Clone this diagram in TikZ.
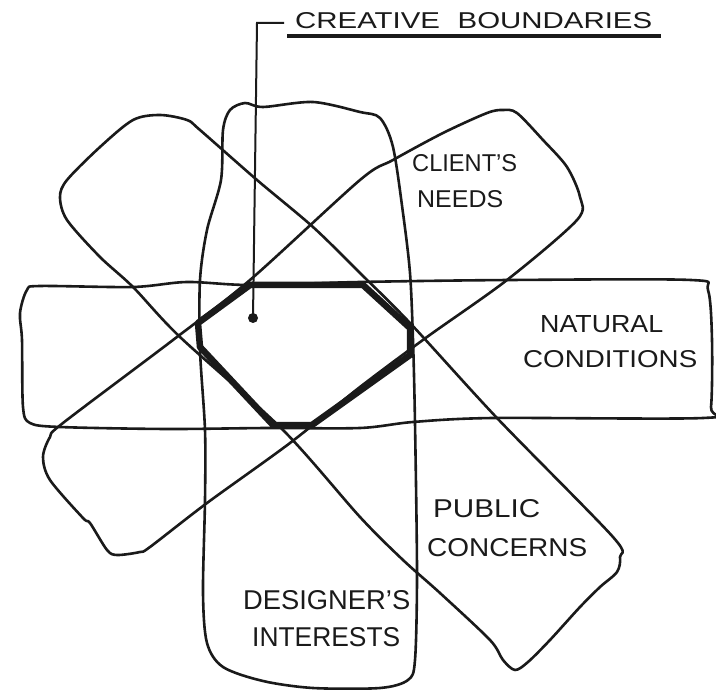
\documentclass[tikz,border=0pt]{standalone}
\usepackage{fontspec}
\setmainfont{Liberation Sans}
\usepackage{graphicx}
\newcommand{\hand}[3]{\resizebox{#1pt}{#2pt}{#3}}
\tikzset{
  band/.style={draw=ink, line width=2.6pt, line join=round},
  hexa/.style={draw=ink, line width=6.5pt, line join=round},
  lbl/.style={inner sep=0pt, anchor=south west, text=ink},
}
\definecolor{ink}{HTML}{1A1A1A}
\begin{document}
\begin{tikzpicture}[x=1pt,y=-1pt]
\useasboundingbox[fill=white] (0,0) rectangle (716,690);
% designer's interests (vertical)
\draw[band] plot[smooth cycle, tension=0.5] coordinates {(230,110) (245,103) (263,107) (313,102) (360,112) (380,118) (393,147) (403,213) (410,273) (413,340) (415,423) (417,573) (415,660) (408,680) (380,688) (313,688) (263,681) (223,667) (207,643) (203,593) (205,500) (205,430) (200,350) (200,280) (207,230) (221,180) (223,130)};
% natural conditions (horizontal)
\draw[band] plot[smooth cycle, tension=0.5] coordinates {(27,290) (40,286) (133,287) (187,282) (250,285) (360,282) (510,280) (691,280) (708,290) (712,340) (711,407) (703,418) (493,418) (413,422) (360,428) (267,428) (167,429) (60,427) (30,423) (23,407) (22,340) (20,313)};
% public concerns (diagonal UL-LR)
\draw[band] plot[smooth cycle, tension=0.5] coordinates {(160,115) (187,120) (200,130) (257,180) (313,227) (360,273) (410,323) (497,418) (613,537) (620,557) (617,572) (600,587) (580,607) (550,640) (528,662) (515,670) (503,660) (490,640) (440,593) (403,560) (360,517) (283,430) (180,337) (133,287) (100,257) (67,220) (60,197) (67,180) (100,147) (133,120)};
% client's needs (diagonal LL-UR)
\draw[band] plot[smooth cycle, tension=0.5] coordinates {(503,110) (517,113) (543,140) (567,167) (580,197) (577,220) (507,280) (427,337) (360,387) (290,443) (207,503) (150,547) (140,552) (117,555) (107,550) (90,523) (83,518) (50,480) (43,457) (50,437) (63,423) (173,340) (250,280) (360,180) (393,160) (443,133) (487,113)};
% creative boundaries
\draw[hexa] (250,285) -- (363,285) -- (410,328) -- (410,355) -- (312,425) -- (273,425) -- (200,347) -- (198,323) -- cycle;
% labels
\node[lbl] (client) at (412,172) {\hand{105}{17}{CLIENT’S}};
\node[lbl] (needs) at (417,208) {\hand{86}{17}{NEEDS}};
\node[lbl] (natural) at (540,333) {\hand{123}{17}{NATURAL}};
\node[lbl] (conditions) at (523,368) {\hand{174}{17}{CONDITIONS}};
\node[lbl] (public) at (433,518) {\hand{107}{18}{PUBLIC}};
\node[lbl] (concerns) at (427,557) {\hand{160}{18}{CONCERNS}};
\node[lbl] (designer) at (243,610) {\hand{167}{19}{DESIGNER’S}};
\node[lbl] (interests) at (252,647) {\hand{148}{19}{INTERESTS}};
\node[lbl] (title) at (295,29) {\hand{357}{16}{CREATIVE\hspace{0.6em}BOUNDARIES}};
% underline and leader
\coordinate (ulA) at (287,36);
\coordinate (ulB) at (661,36);
\draw[ink, line width=4.5pt] (ulA) -- (ulB);
\coordinate (dot) at (253,318);
\coordinate (bend) at (257,23);
\coordinate (lead) at (284,23);
\draw[ink, line width=2pt] (dot) -- (bend) -- (lead);
\fill[ink] (dot) circle (5);
\end{tikzpicture}
\end{document}
